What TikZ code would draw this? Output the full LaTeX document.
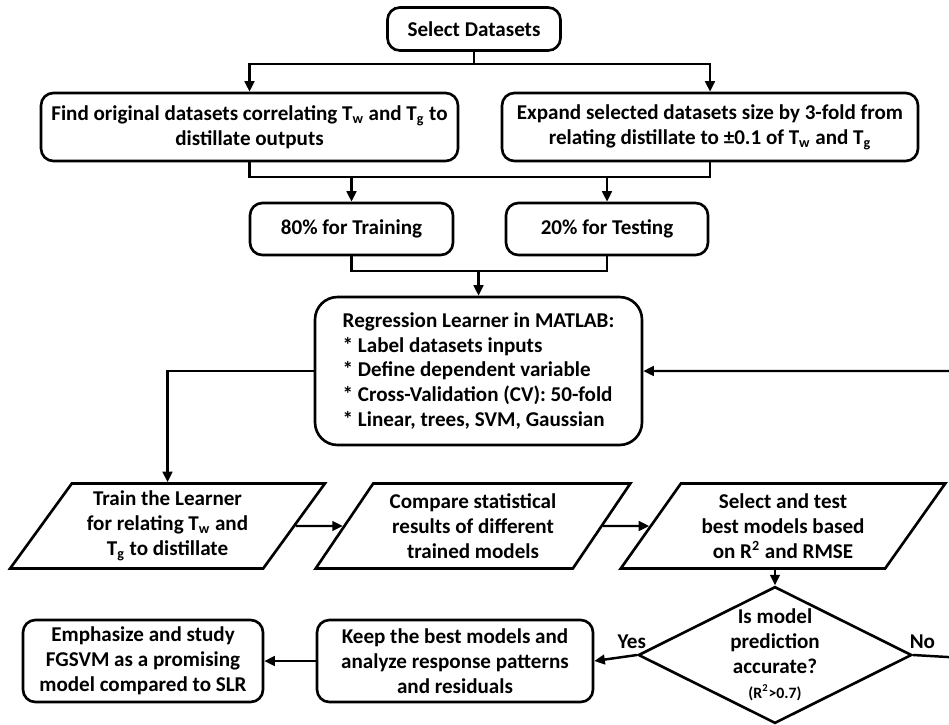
\documentclass[tikz,border=0pt]{standalone}
\usepackage{fontspec}
\setmainfont{Carlito}
\usetikzlibrary{arrows.meta,shapes.geometric}

\tikzset{
  >={Triangle[length=6pt,width=5.5pt]},
  txt/.style={font=\bfseries\fontsize{12}{14.2}\selectfont, align=center},
  box/.style={txt, draw, line width=1.5pt, rounded corners=7pt},
  para/.style={txt, draw, line width=1.5pt, trapezium, trapezium left angle=53.5,
    trapezium right angle=126.5, trapezium stretches, minimum width=6.3cm,
    minimum height=1.7cm, inner sep=0pt},
  decide/.style={txt, draw, line width=1.5pt, diamond, aspect=2, inner sep=0pt,
    minimum width=5cm, minimum height=2.48cm},
  conn/.style={line width=1.4pt},
}

\begin{document}
\begin{tikzpicture}[x=0.02cm, y=-0.02cm]
    \useasboundingbox (0,0) rectangle (949,724);

    % Data preparation
    \node[box, minimum width=3.46cm, minimum height=0.86cm] (sel) at (474,29) {Select Datasets};
    \node[box, minimum width=8.34cm, minimum height=1.36cm] (find) at (249.5,127)
        {Find original datasets correlating T\textsubscript{w} and T\textsubscript{g} to\\distillate outputs};
    \node[box, minimum width=8.32cm, minimum height=1.36cm] (expand) at (710,127)
        {Expand selected datasets size by 3-fold from\\relating distillate to ±0.1 of T\textsubscript{w} and T\textsubscript{g}};
    \node[box, minimum width=4.06cm, minimum height=1.04cm] (train) at (351.5,229) {80\% for Training};
    \node[box, minimum width=4.04cm, minimum height=1.04cm] (test) at (607,229) {20\% for Testing};
    \node[box, align=left, rounded corners=0.45cm, minimum width=6.54cm, minimum height=2.96cm] (reg) at (478.5,371)
        {Regression Learner in MATLAB:\\* Label datasets inputs\\* Define dependent variable\\* Cross-Validation (CV): 50-fold\\* Linear, trees, SVM, Gaussian};

    % Model training
    \node[para] (learn) at (167.5,526) {Train the Learner\\for relating T\textsubscript{w} and\\T\textsubscript{g} to distillate};
    \node[para] (comp) at (473,526) {Compare statistical\\results of different\\trained models};
    \node[para, minimum width=6.5cm] (best) at (783,526) {Select and test\\best models based\\on R\textsuperscript{2} and RMSE};
    \node[decide] (dec) at (775,655) {Is model\\prediction\\accurate?\\{\fontsize{9}{11}\selectfont (R\textsuperscript{2}>0.7)}};
    \node[box, minimum width=5.52cm, minimum height=1.64cm] (keep) at (455,661)
        {Keep the best models and\\analyze response patterns\\and residuals};
    \node[box, minimum width=4.8cm, minimum height=1.64cm] (emph) at (143,661)
        {Emphasize and study\\FGSVM as a promising\\model compared to SLR};

    % Connectors
    \coordinate (split) at (474,64);
    \coordinate (j1) at (0,177);
    \coordinate (j2) at (0,271);
    \coordinate (edge) at (965,658);
    \draw[conn] (sel.south) -- (split);
    \draw[conn,->] (split) -| (find.north);
    \draw[conn,->] (split) -| (expand.north);
    \draw[conn] (find.south) |- (j1 -| expand.south) -- (expand.south);
    \draw[conn,->] (train.north |- j1) -- (train.north);
    \draw[conn,->] (test.north |- j1) -- (test.north);
    \draw[conn] (train.south) |- (j2 -| test.south) -- (test.south);
    \draw[conn,->] (reg.north |- j2) -- (reg.north);
    \draw[conn,->] (reg.west) -| (learn.north);
    \foreach \a/\b in {learn/comp, comp/best}
        \draw[conn,->] (\a.east) -- (\b.west);
    \draw[conn,->] (dec.north |- best.south) -- (dec.north);
    \draw[conn,->] (dec.west) -- node[txt, above, pos=0.12] (yes) {Yes} (keep.east);
    \draw[conn,->] (dec.east) -- node[txt, above, pos=0.18] (no) {No} (edge) |- (reg.east);
    \draw[conn,->] (keep.west) -- (emph.east);
\end{tikzpicture}
\end{document}
